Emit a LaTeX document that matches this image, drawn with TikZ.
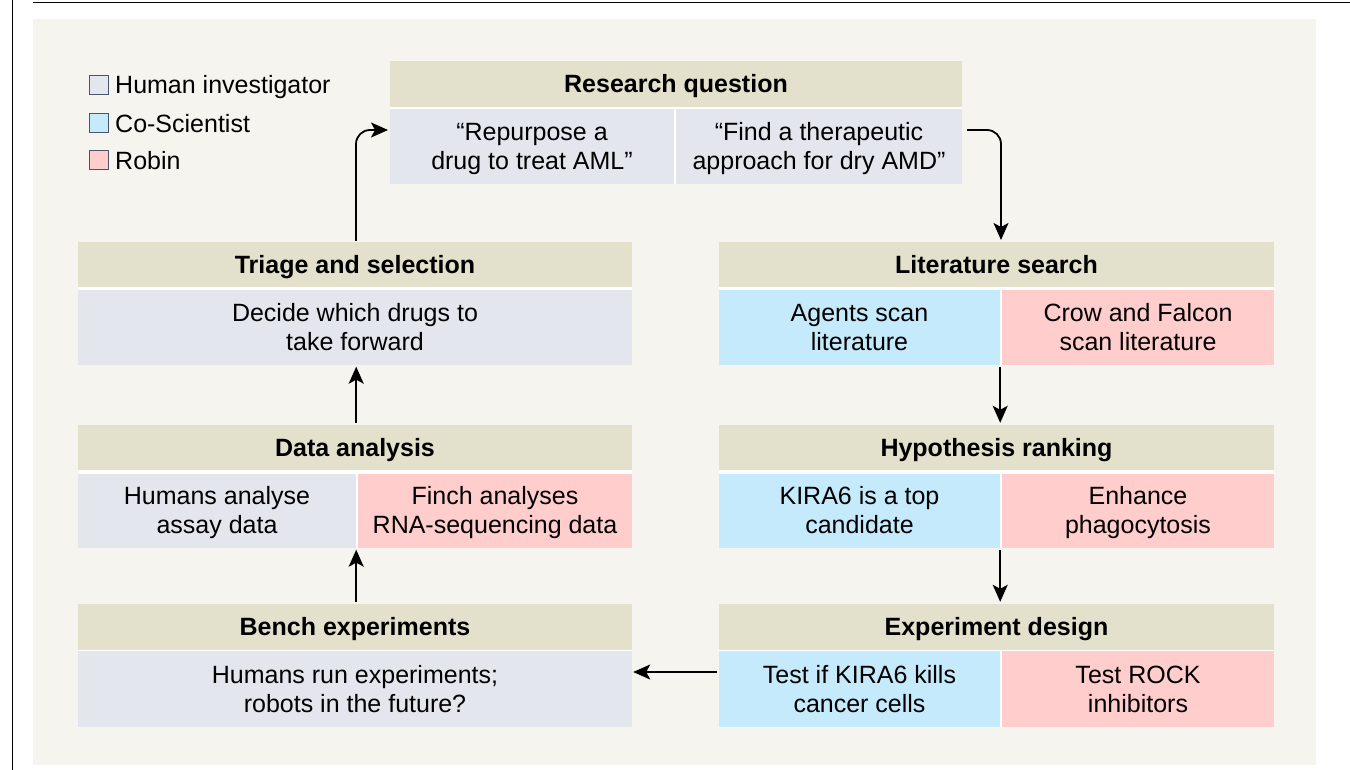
\documentclass[tikz,border=0pt]{standalone}
\usepackage{fontspec}
\setmainfont{Liberation Sans}
\usetikzlibrary{arrows.meta}
\definecolor{panel}{HTML}{F5F4EE}
\definecolor{hdr}{HTML}{E3E0CB}
\definecolor{hum}{HTML}{E3E6EC}
\definecolor{cos}{HTML}{C4EAFB}
\definecolor{rob}{HTML}{FFCDCB}
\definecolor{legbd}{HTML}{4A5468}
\newcommand\twol[2]{\rule{0pt}{17.9pt}\smash{#1}\\\smash{#2}}
\begin{document}
\begin{tikzpicture}[x=1pt,y=-1pt,
  hdrbox/.style={fill=hdr, inner sep=0, minimum height=46, text height=17.9pt, text depth=0pt, font=\fontsize{25}{29}\selectfont\bfseries},
  cell/.style={inner sep=0, minimum height=75, align=center, font=\fontsize{25}{29}\selectfont},
  legsq/.style={draw=legbd, line width=0.8pt, minimum size=19, inner sep=0},
  legtxt/.style={anchor=west, inner sep=0, text height=17.9pt, text depth=0pt, font=\fontsize{25}{29}\selectfont},
  arr/.style={-{Stealth[length=17pt,width=15pt,inset=4pt]}, line width=1.8pt},
]
\useasboundingbox (0,0) rectangle (1350,770);
\fill[panel] (33,19) rectangle (1316,765);
\draw[line width=1.3pt] (33,2.5) -- (1350,2.5);
\draw[line width=1.3pt] (12.5,0) -- (12.5,770);

% legend
\node[legsq, fill=hum] (lg1) at (99,85) {};
\node[legtxt] (lt1) at (115,85) {Human investigator};
\node[legsq, fill=cos] (lg2) at (99,122.5) {};
\node[legtxt] (lt2) at (115,124) {Co-Scientist};
\node[legsq, fill=rob] (lg3) at (99,159.5) {};
\node[legtxt] (lt3) at (115,161) {Robin};

% white gaps behind blocks
\fill[white] (390,106) rectangle (962,184);
\fill[white] (78,286) rectangle (632,364.5);
\fill[white] (719,286) rectangle (1274,364.5);
\fill[white] (78,469) rectangle (632,547.5);
\fill[white] (719,469) rectangle (1274,547.5);
\fill[white] (78,649) rectangle (632,727);
\fill[white] (719,649) rectangle (1274,727);

% Research question
\node[hdrbox, minimum width=572] (rqH) at (676,84) {Research question};
\node[cell, fill=hum, minimum width=284] (rqA) at (532,146.5) {\twol{“Repurpose a}{drug to treat AML”}};
\node[cell, fill=hum, minimum width=286] (rqB) at (819,146.5) {\twol{“Find a therapeutic}{approach for dry AMD”}};

% Triage
\node[hdrbox, minimum width=554, minimum height=45] (trH) at (355,264.5) {Triage and selection};
\node[cell, fill=hum, minimum width=554, minimum height=74] (trB) at (355,327.5) {\twol{Decide which drugs to}{take forward}};

% Literature search
\node[hdrbox, minimum width=555, minimum height=45] (litH) at (996.5,264.5) {Literature search};
\node[cell, fill=cos, minimum width=281, minimum height=74] (litA) at (859.5,327.5) {\twol{Agents scan}{literature}};
\node[cell, fill=rob, minimum width=272, minimum height=74] (litB) at (1138,327.5) {\twol{Crow and Falcon}{scan literature}};

% Data analysis
\node[hdrbox, minimum width=554, minimum height=45] (daH) at (355,447.5) {Data analysis};
\node[cell, fill=hum, minimum width=278, minimum height=74] (daA) at (217,510.5) {\twol{Humans analyse}{assay data}};
\node[cell, fill=rob, minimum width=274, minimum height=74] (daB) at (495,510.5) {\twol{Finch analyses}{RNA-sequencing data}};

% Hypothesis ranking
\node[hdrbox, minimum width=555, minimum height=45] (hyH) at (996.5,447.5) {Hypothesis ranking};
\node[cell, fill=cos, minimum width=281, minimum height=74] (hyA) at (859.5,510.5) {\twol{KIRA6 is a top}{candidate}};
\node[cell, fill=rob, minimum width=272, minimum height=74] (hyB) at (1138,510.5) {\twol{Enhance}{phagocytosis}};

% Bench experiments
\node[hdrbox, minimum width=554] (beH) at (355,627) {Bench experiments};
\node[cell, fill=hum, minimum width=554, minimum height=76] (beB) at (355,689) {\twol{Humans run experiments;}{robots in the future?}};

% Experiment design
\node[hdrbox, minimum width=555] (exH) at (996.5,627) {Experiment design};
\node[cell, fill=cos, minimum width=281, minimum height=76] (exA) at (859.5,689) {\twol{Test if KIRA6 kills}{cancer cells}};
\node[cell, fill=rob, minimum width=272, minimum height=76] (exB) at (1138,689) {\twol{Test ROCK}{inhibitors}};

% connectors
\coordinate (rqout) at (967,130);
\coordinate (litin) at (1001,240);
\draw[arr, rounded corners=14pt] (rqout) -| (litin);
\coordinate (trout) at (356,241);
\coordinate (rqin) at (388,130);
\draw[arr, rounded corners=14pt] (trout) |- (rqin);
\draw[arr, shorten <=2pt, shorten >=2pt] (litA.south east) -- (litA.south east |- hyH.north);
\draw[arr, shorten <=2pt, shorten >=2pt] (hyA.south east) -- (hyA.south east |- exH.north);
\draw[arr, shorten <=2pt, shorten >=2pt] (daA.east |- beH.north) -- (daA.south east);
\draw[arr, shorten <=2pt, shorten >=2pt] (daA.east |- daH.north) -- (daA.east |- trB.south);
\draw[arr, shorten <=2pt, shorten >=1pt] (exA.west |- 0,672) -- (beB.east |- 0,672);
\end{tikzpicture}
\end{document}
